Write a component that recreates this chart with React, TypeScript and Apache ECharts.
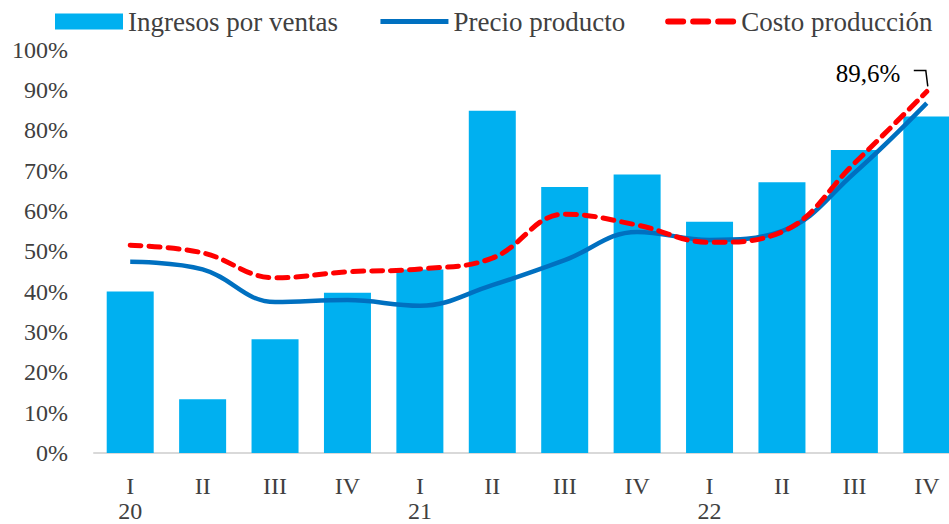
import React, { useEffect, useRef } from "react";
import * as echarts from "echarts";

const quarters = ["I", "II", "III", "IV", "I", "II", "III", "IV", "I", "II", "III", "IV"];
const years = ["20", "", "", "", "21", "", "", "", "22", "", "", ""];
const ingresos = [40.0, 13.3, 28.2, 39.7, 45.5, 84.8, 65.9, 69.0, 57.3, 67.1, 75.1, 83.4];
const precio = [47.4, 45.5, 37.4, 37.9, 36.5, 41.6, 47.8, 54.8, 52.8, 55.0, 69.4, 86.7];
const costo = [51.5, 49.6, 43.4, 44.9, 45.6, 48.3, 59.2, 56.5, 52.2, 54.8, 71.8, 89.6];
const yTicks = [0, 100, 10];

const FONT = "Liberation Serif";
const TXT = "#404040";

export default function App() {
  const ref = useRef<HTMLDivElement>(null);
  useEffect(() => {
    if (!ref.current) return;
    const chart = echarts.init(ref.current, null, { renderer: "svg" });
    const cats = quarters.map((q, i) => (years[i] ? q + "\n" + years[i] : q));
    const last = costo.length - 1;
    chart.setOption({
      animation: false,
      textStyle: { fontFamily: FONT },
      legend: {
        top: 3,
        left: 50,
        itemWidth: 68,
        itemHeight: 16,
        itemGap: 40,
        textStyle: { fontFamily: FONT, fontSize: 27, color: TXT },
        data: [
          { name: "Ingresos por ventas", icon: "rect" },
          {
            name: "Precio producto",
            itemStyle: { opacity: 0 },
            lineStyle: { width: 5, color: "#0070C0" },
          },
          {
            name: "Costo producción",
            itemStyle: { opacity: 0 },
            lineStyle: { width: 6, color: "#FF0000", type: [15, 10], cap: "round" },
          },
        ],
      },
      grid: {
        left: 94,
        top: 49.5,
        bottom: 71,
        width: 869,
        containLabel: false,
        outerBoundsMode: "none",
      },
      xAxis: {
        type: "category",
        data: cats,
        axisLine: { lineStyle: { color: "#d9d9d9", width: 2 } },
        axisTick: { show: false },
        axisLabel: {
          fontFamily: FONT,
          fontSize: 24,
          color: TXT,
          lineHeight: 25,
          margin: 20,
          interval: 0,
        },
      },
      yAxis: {
        type: "value",
        min: yTicks[0],
        max: yTicks[1],
        interval: yTicks[2],
        splitLine: { show: false },
        axisLine: { show: false },
        axisTick: { show: false },
        axisLabel: {
          formatter: "{value}%",
          fontFamily: FONT,
          fontSize: 24,
          color: TXT,
          margin: 26,
        },
      },
      series: [
        {
          name: "Ingresos por ventas",
          type: "bar",
          data: ingresos,
          barWidth: 47,
          itemStyle: { color: "#00B0F0" },
        },
        {
          name: "Precio producto",
          type: "line",
          data: precio,
          smooth: 0.4,
          showSymbol: false,
          symbol: "none",
          lineStyle: { color: "#0070C0", width: 4.5 },
          itemStyle: { color: "#0070C0" },
        },
        {
          name: "Costo producción",
          type: "line",
          data: costo,
          smooth: 0.4,
          showSymbol: false,
          symbol: "none",
          lineStyle: { color: "#FF0000", width: 5, type: [11, 8], cap: "round" },
          itemStyle: { color: "#FF0000" },
          markPoint: {
            symbol: "circle",
            symbolSize: 1,
            itemStyle: { color: "rgba(0,0,0,0)" },
            data: [
              {
                coord: [last, costo[last]],
                label: {
                  show: true,
                  formatter: "89,6%",
                  position: "left",
                  distance: 26,
                  offset: [0, -18],
                  fontFamily: FONT,
                  fontSize: 25,
                  color: "#000",
                },
              },
            ],
          },
        },
      ],
    });
    const p = chart.convertToPixel({ seriesIndex: 2 }, [last, costo[last]]) as number[];
    if (p) {
      chart.setOption({
        graphic: [
          {
            type: "polyline",
            shape: {
              points: [
                [p[0] - 13, p[1] - 21],
                [p[0] - 1, p[1] - 21],
                [p[0] + 1, p[1] - 5],
              ],
            },
            style: { stroke: "#000", lineWidth: 1.5, fill: null },
          },
        ],
      });
    }
    return () => chart.dispose();
  }, []);
  return <div ref={ref} style={{ width: 949, height: 524, position: "absolute", left: 0, top: 0 }} />;
}
